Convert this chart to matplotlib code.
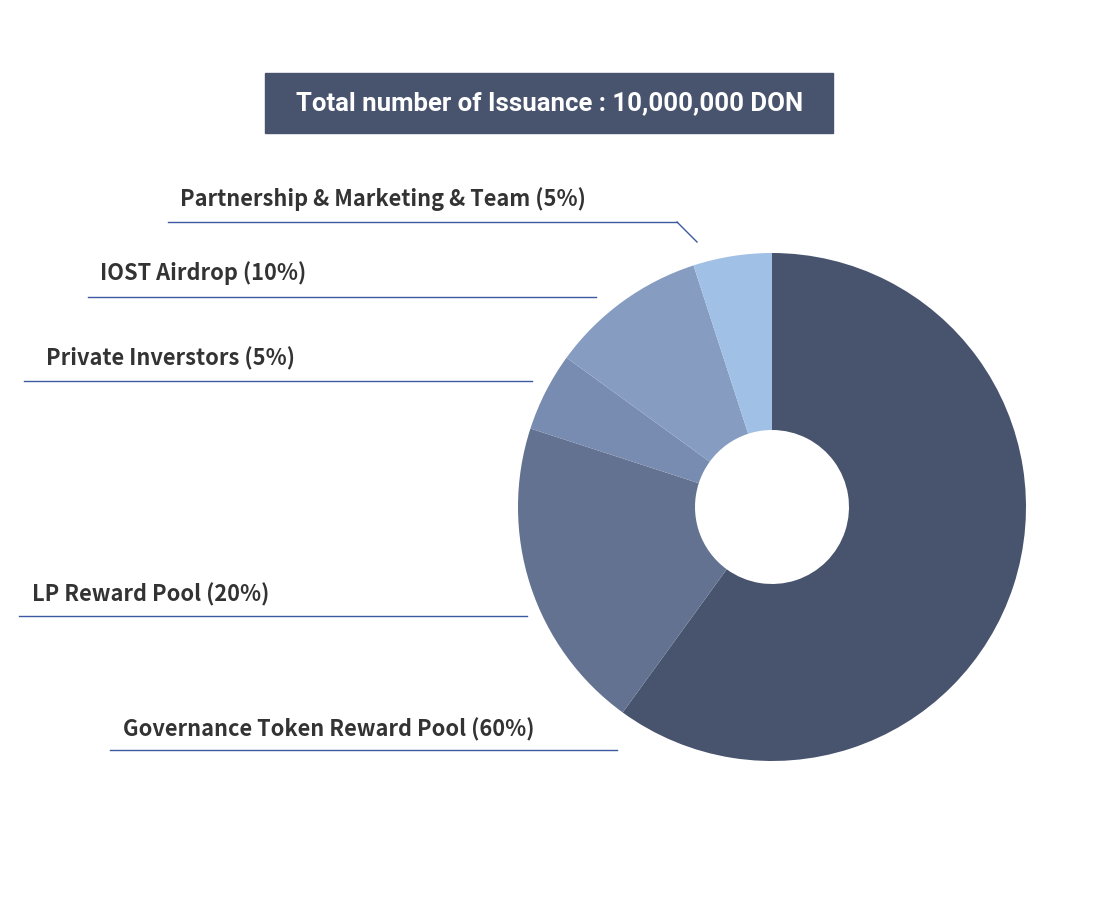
import matplotlib.pyplot as plt
from matplotlib.patches import Rectangle

# token allocation (clockwise from 12 o'clock)
labels = ["Governance Token Reward Pool (60%)", "LP Reward Pool (20%)",
          "Private Inverstors (5%)", "IOST Airdrop (10%)",
          "Partnership & Marketing & Team (5%)"]
shares = [60, 20, 5, 10, 5]
colors = ["#48536e", "#627290", "#788bb0", "#869dc1", "#a1c0e6"]
title = "Total number of Issuance : 10,000,000 DON"

H = 900
fig = plt.figure(figsize=(11, 9), dpi=100)
ax = fig.add_axes([0, 0, 1, 1])
ax.set_xlim(0, 1100)
ax.set_ylim(0, H)
ax.set_aspect("equal")
ax.axis("off")

ax.pie(shares, colors=colors, startangle=90, counterclock=False,
       center=(772, H - 507), radius=254,
       wedgeprops=dict(width=177, linewidth=0))
ax.set_xlim(0, 1100)
ax.set_ylim(0, H)

# title box
ax.add_patch(Rectangle((265, H - 133), 568, 60, color="#48536e"))
ax.text(550, H - 103, title, color="white", fontsize=18.5, family="Roboto",
        fontweight="bold", ha="center", va="center")

# label text x, baseline y, line x0, x1, line y
label_pos = {
    "Governance Token Reward Pool (60%)": (123, 736, 110, 617, 750),
    "LP Reward Pool (20%)": (32, 601, 19, 527, 616),
    "Private Inverstors (5%)": (46, 365, 24, 532, 381),
    "IOST Airdrop (10%)": (100, 280, 88, 596, 297),
    "Partnership & Marketing & Team (5%)": (180, 206, 168, 677, 222),
}
line_col = "#3d5aa0"
for lab in labels:
    tx, ty, x0, x1, ly = label_pos[lab]
    ax.text(tx, H - ty, lab, fontsize=15.7, family="Noto Sans CJK KR",
            fontweight="bold", color="#333333", ha="left", va="baseline")
    ax.plot([x0, x1], [H - ly, H - ly], color=line_col, lw=1)
# leader tail for the small top slice
ax.plot([677, 697], [H - 222, H - 242], color=line_col, lw=1)

fig.savefig("out.png", dpi=100, facecolor="white")
